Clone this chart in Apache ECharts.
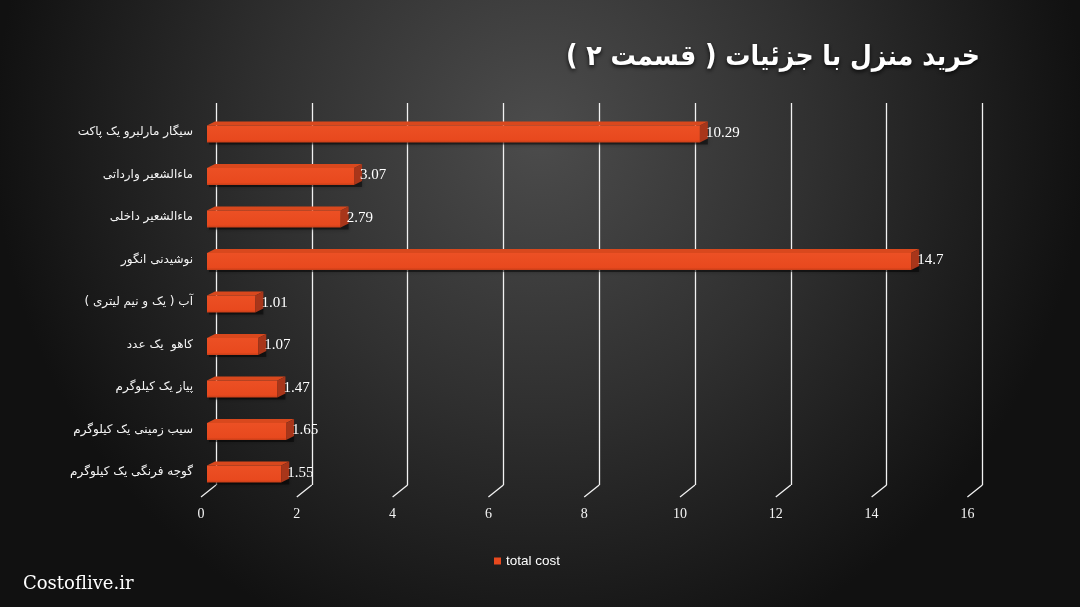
<!DOCTYPE html>
<html>
<head>
<meta charset="utf-8">
<script src="https://cdn.jsdelivr.net/npm/echarts@6/dist/echarts.min.js"></script>
<style>
html,body{margin:0;padding:0;background:#111;}
#chart{width:1080px;height:607px;}
</style>
</head>
<body>
<div id="chart"></div>
<script>
const titleText = 'خرید منزل با جزئیات ( قسمت ۲ )';
const categories = [
  'سیگار مارلبرو یک پاکت',
  'ماءالشعیر وارداتی',
  'ماءالشعیر داخلی',
  'نوشیدنی انگور',
  'آب ( یک و نیم لیتری )',
  'کاهو  یک عدد',
  'پیاز یک کیلوگرم',
  'سیب زمینی یک کیلوگرم',
  'گوجه فرنگی یک کیلوگرم'
];
const values = [10.29, 3.07, 2.79, 14.7, 1.01, 1.07, 1.47, 1.65, 1.55];
const xTicks = [0, 2, 4, 6, 8, 10, 12, 14, 16];
const seriesName = 'total cost';
const watermark = 'Costoflive.ir';

const RLE = '\u202B', PDF = '\u202C';
const chart = echarts.init(document.getElementById('chart'), null, {renderer: 'canvas'});

const DEPTH_X = 8, DEPTH_Y = 4;

const option = {
  animation: false,
  backgroundColor: {
    type: 'radial', x: 0.5, y: 0.22, r: 0.9,
    colorStops: [
      {offset: 0, color: '#4c4c4c'},
      {offset: 0.5, color: '#303030'},
      {offset: 1, color: '#111111'}
    ]
  },
  title: {
    text: RLE + titleText + PDF,
    right: 95, top: 39,
    textStyle: {color: '#ffffff', fontSize: 28, fontWeight: 'bold', fontFamily: '"DejaVu Sans Condensed", "DejaVu Sans"',
      textShadowColor: 'rgba(0,0,0,0.8)', textShadowBlur: 4, textShadowOffsetY: 2}
  },
  legend: {
    data: [{name: seriesName, icon: 'rect', itemStyle: {color: '#E8491E'}}],
    left: 489, top: 549,
    itemWidth: 7, itemHeight: 7, itemGap: 10,
    textStyle: {color: '#ffffff', fontSize: 13.5, fontFamily: 'Liberation Sans'}
  },
  graphic: [{
    type: 'text', left: 23, top: 575,
    style: {text: watermark, fill: '#ffffff', font: '18px "DejaVu Serif"'}
  }],
  grid: [
    {left: 207, width: 766.4, top: 110.75, height: 382.5},
    {left: 216, width: 766.4, top: 103, height: 382},
    {left: 201, width: 766.4, top: 103, height: 394}
  ],
  xAxis: [
    {gridIndex: 0, type: 'value', min: 0, max: 16, interval: 2, show: false},
    {gridIndex: 1, type: 'value', min: 0, max: 16, interval: 2,
      axisLine: {show: false}, axisTick: {show: false}, axisLabel: {show: false},
      splitLine: {show: true, lineStyle: {color: '#f2f2f2', width: 1.3}}},
    {gridIndex: 2, type: 'value', min: 0, max: 16, interval: 2,
      axisLine: {show: false}, axisTick: {show: false}, splitLine: {show: false},
      axisLabel: {color: '#f4f4f4', fontSize: 14, fontFamily: 'Liberation Serif', margin: 10,
        formatter: v => String(v)}}
  ],
  yAxis: [
    {gridIndex: 0, type: 'category', inverse: true,
      data: categories.map(c => RLE + c + PDF),
      axisLine: {show: false}, axisTick: {show: false}, splitLine: {show: false},
      axisLabel: {color: '#f4f4f4', fontSize: 12, fontFamily: 'DejaVu Sans', margin: 14}},
    {gridIndex: 1, type: 'value', min: 0, max: 1, show: false},
    {gridIndex: 2, type: 'value', min: 0, max: 1, show: false}
  ],
  series: [
    {
      type: 'custom', name: 'ticks', xAxisIndex: 1, yAxisIndex: 1, silent: true,
      data: xTicks.map(v => [v, 0]),
      renderItem: function (params, api) {
        const p = api.coord([api.value(0), 0]);
        return {
          type: 'polyline',
          shape: {points: [[p[0], p[1]], [p[0] - 15, p[1] + 12]]},
          style: {stroke: '#f2f2f2', lineWidth: 1.3, fill: null}
        };
      }
    },
    {
      type: 'custom', name: seriesName, xAxisIndex: 0, yAxisIndex: 0,
      itemStyle: {color: '#E8491E'},
      data: values.map((v, i) => [v, i]),
      encode: {x: 0, y: 1},
      renderItem: function (params, api) {
        const v = api.value(0);
        const c = api.coord([v, api.value(1)]);
        const o = api.coord([0, api.value(1)]);
        const h = 17;
        const x0 = o[0], x1 = c[0];
        const y0 = c[1] - h / 2 + 2, y1 = y0 + h;
        return {
          type: 'group',
          children: [
            {type: 'rect', shape: {x: x0 + 2, y: y0 + 2, width: x1 - x0 + DEPTH_X - 2, height: h},
              style: {fill: 'rgba(0,0,0,0.45)', shadowBlur: 4, shadowColor: 'rgba(0,0,0,0.6)'}},
            {type: 'polygon', shape: {points: [[x0, y0], [x0 + DEPTH_X, y0 - DEPTH_Y], [x1 + DEPTH_X, y0 - DEPTH_Y], [x1, y0]]},
              style: {fill: '#D9481D'}},
            {type: 'polygon', shape: {points: [[x1, y0], [x1 + DEPTH_X, y0 - DEPTH_Y], [x1 + DEPTH_X, y1 - DEPTH_Y], [x1, y1]]},
              style: {fill: '#A8361A'}},
            {type: 'rect', shape: {x: x0, y: y0, width: x1 - x0, height: h},
              style: {fill: {type: 'linear', x: 0, y: 0, x2: 0, y2: 1, colorStops: [
                {offset: 0, color: '#EC5024'}, {offset: 0.85, color: '#E8491E'}, {offset: 1, color: '#C73E18'}]}}},
            {type: 'text', style: {text: String(v), x: x1 + 6, y: (y0 + y1) / 2 - 1,
              verticalAlign: 'middle', align: 'left', fill: '#ffffff',
              font: '15px "Liberation Serif"'}}
          ]
        };
      }
    }
  ]
};
chart.setOption(option);
</script>
</body>
</html>
